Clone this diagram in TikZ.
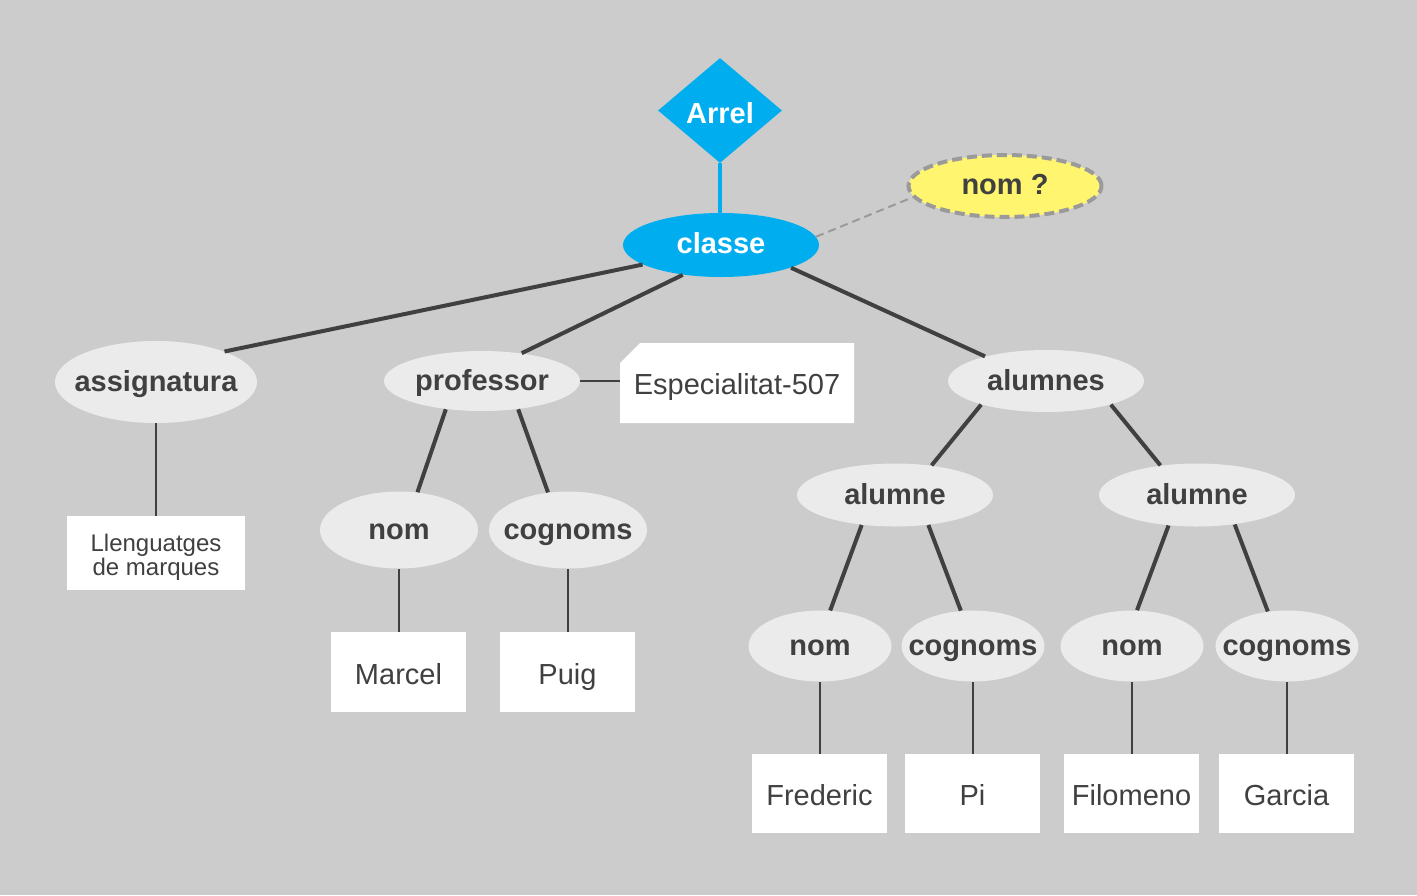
\documentclass[tikz,border=0pt]{standalone}
\usepackage{fontspec}
\setmainfont{Liberation Sans}
\usetikzlibrary{shapes.geometric,shapes.misc}

\definecolor{bg}{HTML}{CCCCCC}
\definecolor{ink}{HTML}{404040}
\definecolor{rootblue}{HTML}{00AEEF}
\definecolor{pale}{HTML}{EBEBEB}
\definecolor{notefill}{HTML}{FFF56E}
\definecolor{notegray}{HTML}{9A9A9A}

\newcommand\ctext[1]{\makebox[0pt]{#1}}

\tikzset{
  labelfont/.style={font=\fontsize{14.5}{17}\selectfont\bfseries},
  valfont/.style={font=\fontsize{14.5}{17}\selectfont},
  elem/.style n args={2}{ellipse, fill=pale, inner sep=0pt, text=ink, labelfont,
    text height=9.6pt, text depth=0pt, minimum width=#1pt, minimum height=#2pt},
  valbox/.style n args={2}{rectangle, fill=white, inner sep=0pt, text=ink, valfont,
    text height=12pt, text depth=0pt, minimum width=#1pt, minimum height=#2pt},
  branch/.style={draw=ink, line width=2pt},
  leaf/.style={draw=ink, line width=1pt},
}

\begin{document}
\begin{tikzpicture}[x=0.5pt, y=-0.5pt]
  % canvas
  \fill[bg] (0,0) rectangle (1417,895);
  \useasboundingbox (0,0) rectangle (1417,895);

  % root and class
  \node[diamond, fill=rootblue, inner sep=0pt, minimum width=62pt, minimum height=52.5pt,
        text=white, labelfont, text height=13pt, text depth=0pt] (arrel) at (720,110.5) {\ctext{Arrel}};
  \node[ellipse, fill=rootblue, inner sep=0pt, minimum width=98pt, minimum height=32pt,
        text=white, labelfont, text height=8.4pt, text depth=0pt] (classe) at (721,245) {\ctext{classe}};
  \node[ellipse, fill=notefill, draw=notegray, line width=2pt, dash pattern=on 5pt off 2.5pt,
        inner sep=0pt, minimum width=96.5pt, minimum height=31pt,
        text=ink, labelfont, text height=8pt, text depth=0pt] (nomq) at (1005,186) {\ctext{nom ?}};

  % first level
  \node[elem={101}{41}] (assig) at (156,382) {\ctext{assignatura}};
  \node[elem={98}{30}] (prof) at (482,381) {\ctext{professor}};
  \node[elem={98}{31}] (alumnes) at (1046,381) {\ctext{alumnes}};

  % professor children
  \node[elem={79}{38.5}] (pnom) at (399,530) {\ctext{nom}};
  \node[elem={79}{38.5}] (pcog) at (568,530) {\ctext{cognoms}};

  % students
  \node[elem={98}{31.5}] (alA) at (895,495) {\ctext{alumne}};
  \node[elem={98}{31.5}] (alB) at (1197,495) {\ctext{alumne}};
  \node[elem={71.5}{35.5}] (anomA) at (820,646) {\ctext{nom}};
  \node[elem={71.5}{35.5}] (acogA) at (973,646) {\ctext{cognoms}};
  \node[elem={71.5}{35.5}] (anomB) at (1132,646) {\ctext{nom}};
  \node[elem={71.5}{35.5}] (acogB) at (1287,646) {\ctext{cognoms}};

  % values
  \node[rectangle, fill=white, inner sep=0pt, text=ink, align=center,
        font=\fontsize{12}{11.8}\selectfont, text height=22.3pt, text depth=0pt,
        minimum width=89pt, minimum height=37pt]
        (llen) at (156,553) {Llenguatges\\de marques};
  \node[chamfered rectangle, chamfered rectangle corners=north west,
        chamfered rectangle xsep=5pt, chamfered rectangle ysep=5pt,
        fill=white, inner sep=0pt, text=ink, valfont, text height=11pt, text depth=0pt,
        minimum width=117pt, minimum height=40pt] (esp) at (737,383) {Especialitat-507};
  \node[valbox={67.5}{40}] (marcel) at (398.5,672) {Marcel};
  \node[valbox={67.5}{40}] (puig) at (567.5,672) {Puig};
  \node[valbox={67.5}{39.5}] (fred) at (819.5,793.5) {Frederic};
  \node[valbox={67.5}{39.5}] (pi) at (972.5,793.5) {Pi};
  \node[valbox={67.5}{39.5}] (filo) at (1131.5,793.5) {Filomeno};
  \node[valbox={67.5}{39.5}] (garcia) at (1286.5,793.5) {Garcia};

  % connectors
  \draw[draw=rootblue, line width=2pt] (arrel.south) -- (arrel.south |- classe.north);
  \draw[draw=notegray, line width=1pt, dash pattern=on 4pt off 2.5pt] (classe.5) -- (nomq.187);

  \draw[branch] (classe.194) -- (assig.24);
  \draw[branch] (classe.218) -- (prof.35);
  \draw[branch] (classe.-18) -- (alumnes.158);
  \draw[branch] (alumnes.200) -- (alA.39);
  \draw[branch] (alumnes.-20) -- (alB.141);
  \draw[branch] (prof.218) -- (pnom.64);
  \draw[branch] (prof.-38) -- (pcog.118);
  \draw[branch] (alA.222) -- (anomA.74);
  \draw[branch] (alA.-42) -- (acogA.109);
  \draw[branch] (alB.227) -- (anomB.82);
  \draw[branch] (alB.-38) -- (acogB.119);

  \draw[leaf] (assig.south) -- (assig.south |- llen.north);
  \draw[leaf] (prof.east) -- (esp.west |- prof.east);
  \draw[leaf] (pnom.south) -- (pnom.south |- marcel.north);
  \draw[leaf] (pcog.south) -- (pcog.south |- puig.north);
  \draw[leaf] (anomA.south) -- (anomA.south |- fred.north);
  \draw[leaf] (acogA.south) -- (acogA.south |- pi.north);
  \draw[leaf] (anomB.south) -- (anomB.south |- filo.north);
  \draw[leaf] (acogB.south) -- (acogB.south |- garcia.north);
\end{tikzpicture}
\end{document}
